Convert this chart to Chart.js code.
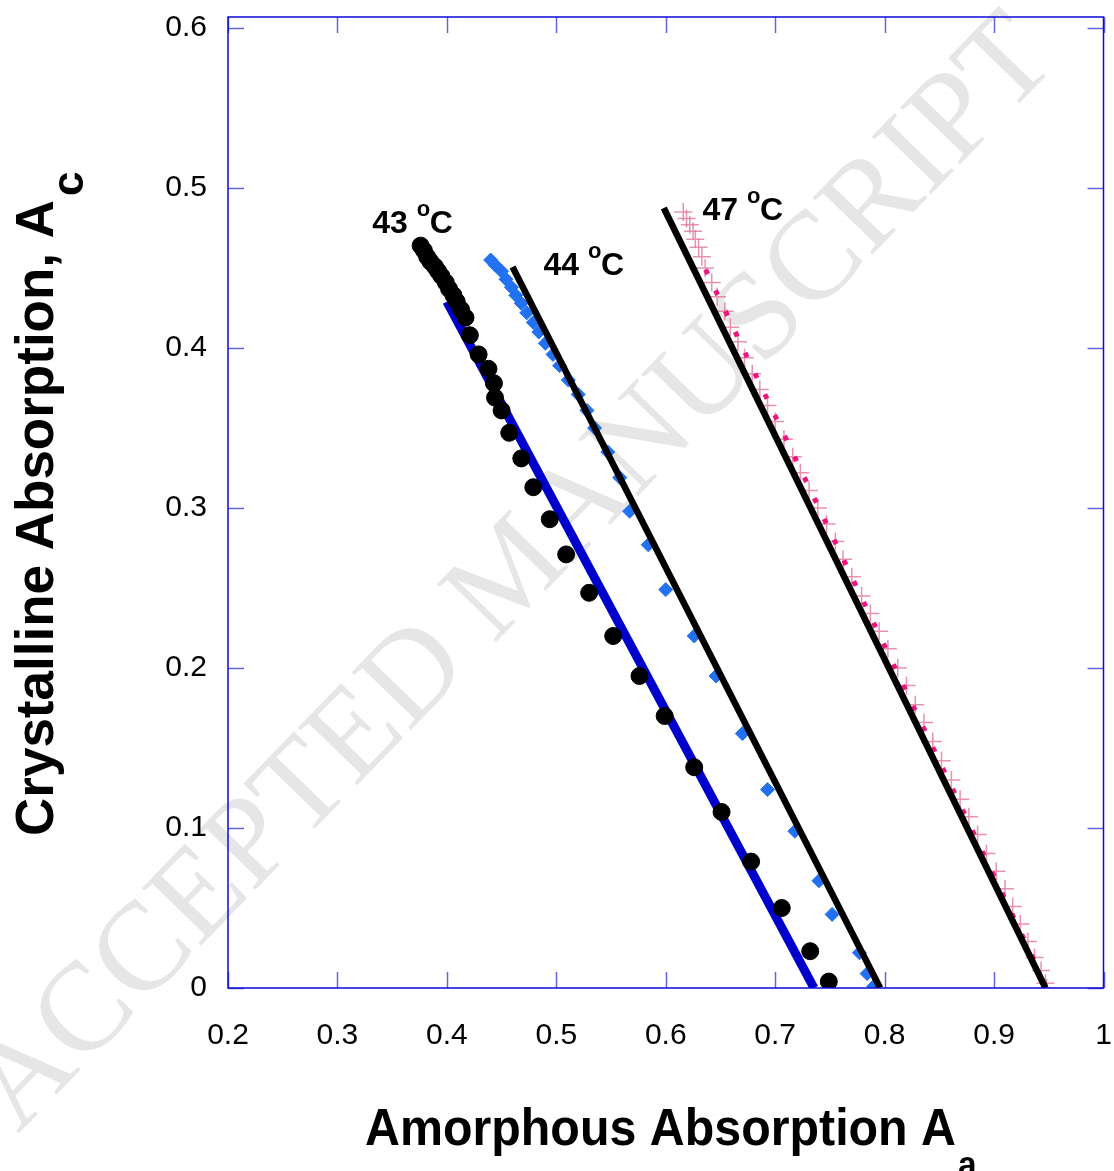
<!DOCTYPE html>
<html>
<head>
<meta charset="utf-8">
<script src="https://cdn.jsdelivr.net/npm/chart.js@4.4.1/dist/chart.umd.min.js"></script>
<style>
  html, body { margin: 0; padding: 0; background: #fff; }
  #wrap { width: 1114px; height: 1171px; }
</style>
</head>
<body>
<div id="wrap"><canvas id="playground" width="1114" height="1171"></canvas></div>
<script>
// tick labels
const xTicks = [0.2, 0.3, 0.4, 0.5, 0.6, 0.7, 0.8, 0.9, 1.0]
const yTicks = [0, 0.1, 0.2, 0.3, 0.4, 0.5, 0.6]

// 43 C data (black dots)
const a43x = [0.376, 0.379, 0.382, 0.385, 0.389, 0.392, 0.395, 0.399, 0.402, 0.406, 0.409, 0.413, 0.417, 0.421, 0.429, 0.438, 0.443, 0.444, 0.450, 0.457, 0.468, 0.479, 0.494, 0.509, 0.530, 0.552, 0.576, 0.599, 0.626, 0.651, 0.678, 0.706, 0.732, 0.749]
const a43y = [0.464, 0.461, 0.457, 0.454, 0.451, 0.448, 0.445, 0.441, 0.437, 0.433, 0.429, 0.424, 0.419, 0.408, 0.396, 0.387, 0.378, 0.369, 0.361, 0.347, 0.331, 0.313, 0.293, 0.271, 0.247, 0.220, 0.195, 0.170, 0.138, 0.110, 0.079, 0.050, 0.023, 0.004]

// 44 C data (blue diamonds)
const a44x = [0.440, 0.444, 0.450, 0.454, 0.459, 0.463, 0.468, 0.473, 0.479, 0.484, 0.490, 0.497, 0.503, 0.511, 0.520, 0.528, 0.535, 0.547, 0.558, 0.567, 0.584, 0.600, 0.626, 0.646, 0.670, 0.693, 0.718, 0.740, 0.752, 0.777, 0.784, 0.790]
const a44y = [0.455, 0.452, 0.448, 0.443, 0.438, 0.433, 0.428, 0.422, 0.416, 0.410, 0.403, 0.396, 0.389, 0.380, 0.371, 0.361, 0.350, 0.335, 0.319, 0.298, 0.277, 0.249, 0.220, 0.195, 0.159, 0.124, 0.098, 0.067, 0.046, 0.022, 0.009, 0.001]

// 47 C data (pink crosses)
const a47x = [0.616, 0.619, 0.622, 0.625, 0.627, 0.630, 0.633, 0.636, 0.642, 0.647, 0.654, 0.659, 0.666, 0.672, 0.679, 0.686, 0.693, 0.700, 0.708, 0.716, 0.723, 0.731, 0.739, 0.747, 0.755, 0.762, 0.770, 0.779, 0.787, 0.795, 0.803, 0.812, 0.820, 0.828, 0.836, 0.844, 0.852, 0.861, 0.869, 0.877, 0.885, 0.893, 0.902, 0.910, 0.917, 0.924, 0.931, 0.937, 0.943, 0.947, 0.948]
const a47y = [0.485, 0.481, 0.477, 0.473, 0.468, 0.463, 0.457, 0.450, 0.441, 0.432, 0.423, 0.413, 0.404, 0.394, 0.384, 0.374, 0.364, 0.354, 0.343, 0.332, 0.322, 0.311, 0.300, 0.290, 0.279, 0.268, 0.257, 0.245, 0.234, 0.223, 0.212, 0.200, 0.189, 0.177, 0.166, 0.154, 0.142, 0.130, 0.118, 0.107, 0.096, 0.084, 0.073, 0.062, 0.051, 0.040, 0.029, 0.019, 0.011, 0.003, 0.000]

// fitted lines
const fit43x = [0.400, 0.7355]
const fit43y = [0.429, 0]
const fit44x = [0.460, 0.7959]
const fit44y = [0.4506, 0]
const fit47x = [0.5982, 0.947]
const fit47y = [0.4875, 0]
const dot47x = [0.6364, 0.943]
const dot47y = [0.449, 0.008]

// labels
const seriesLabels = ['43', '44', '47']
const labelX = [0.3318, 0.4882, 0.6336]
const labelY = [0.4719, 0.4456, 0.48]

const pts = (xs, ys) => xs.map((x, i) => ({ x: x, y: ys[i] }))

const frameColor = '#0a0ad8'
const tickColor = '#6464e0'

const chartDecor = {
  id: 'chartDecor',
  beforeDraw(chart) {
    const c = chart.ctx
    c.save()
    c.fillStyle = '#ffffff'
    c.fillRect(0, 0, chart.width, chart.height)
    // watermark
    c.translate(515, 575)
    c.rotate(-0.80)
    c.font = '126px "Liberation Serif", "DejaVu Serif", serif'
    c.fillStyle = '#e6e6e6'
    c.textAlign = 'center'
    c.textBaseline = 'middle'
    c.fillText('ACCEPTED MANUSCRIPT', 0, 0)
    c.restore()
  },
  afterDraw(chart) {
    const c = chart.ctx
    const a = chart.chartArea
    const xs = chart.scales.x
    const ys = chart.scales.y
    c.save()
    // ticks inside, all four sides
    c.strokeStyle = tickColor
    c.lineWidth = 1.5
    c.beginPath()
    for (const v of xTicks) {
      const px = Math.round(xs.getPixelForValue(v)) + 0.5
      c.moveTo(px, a.bottom); c.lineTo(px, a.bottom - 16)
      c.moveTo(px, a.top); c.lineTo(px, a.top + 16)
    }
    for (const v of yTicks) {
      const py = Math.round(ys.getPixelForValue(v)) + 0.5
      c.moveTo(a.left, py); c.lineTo(a.left + 16, py)
      c.moveTo(a.right, py); c.lineTo(a.right - 16, py)
    }
    c.stroke()
    // frame
    c.strokeStyle = frameColor
    c.lineWidth = 1.5
    c.strokeRect(a.left, a.top, a.right - a.left, a.bottom - a.top)

    // series labels
    c.fillStyle = '#000'
    c.textBaseline = 'alphabetic'
    c.textAlign = 'left'
    seriesLabels.forEach((t, i) => {
      const px = xs.getPixelForValue(labelX[i])
      const py = ys.getPixelForValue(labelY[i])
      c.font = 'bold 32px "Liberation Sans", Arial, sans-serif'
      c.fillText(t, px, py)
      const w = c.measureText(t + ' ').width
      c.font = 'bold 22px "Liberation Sans", Arial, sans-serif'
      c.fillText('o', px + w, py - 17)
      c.font = 'bold 32px "Liberation Sans", Arial, sans-serif'
      c.fillText('C', px + w + 13, py)
    })

    // x axis title
    c.save()
    c.translate(365, 1145)
    c.scale(0.93, 1)
    c.font = 'bold 52px "Liberation Sans", Arial, sans-serif'
    c.fillText('Amorphous Absorption A', 0, 0)
    const tw = c.measureText('Amorphous Absorption A').width
    c.font = 'bold 36px "Liberation Sans", Arial, sans-serif'
    c.fillText('a', tw + 2, 32)
    c.restore()

    // y axis title
    c.save()
    c.translate(53, 836)
    c.rotate(-Math.PI / 2)
    c.font = 'bold 53px "Liberation Sans", Arial, sans-serif'
    c.fillText('Crystalline Absorption, A', 0, 0)
    const yw = c.measureText('Crystalline Absorption, A').width
    c.font = 'bold 44px "Liberation Sans", Arial, sans-serif'
    c.fillText('c', yw + 4, 30)
    c.restore()

    c.restore()
  },
}

const plotChart = () => {
  const ctx = document.getElementById('playground').getContext('2d')
  const myChart = new Chart(ctx, {
    type: 'scatter',
    data: {
      datasets: [
        {
          label: 'fit 44',
          data: pts(fit44x, fit44y),
          showLine: true,
          borderColor: '#000000',
          borderWidth: 6.5,
          pointRadius: 0,
        },
        {
          label: 'fit 47',
          data: pts(fit47x, fit47y),
          showLine: true,
          borderColor: '#000000',
          borderWidth: 6.5,
          pointRadius: 0,
        },
        {
          label: '43 C',
          data: pts(a43x, a43y),
          backgroundColor: '#000000',
          borderColor: '#000000',
          pointRadius: 8.5,
          pointStyle: 'circle',
        },
        {
          label: '47 C dotted',
          data: pts(dot47x, dot47y),
          showLine: true,
          borderColor: '#f0147c',
          borderWidth: 5,
          borderDash: [5, 18],
          pointRadius: 0,
        },
        {
          label: '47 C',
          data: pts(a47x, a47y),
          backgroundColor: 'rgba(222, 110, 150, 0.75)',
          borderColor: 'rgba(222, 110, 150, 0.75)',
          borderWidth: 1.5,
          pointRadius: 9,
          pointStyle: 'cross',
        },
        {
          label: '44 C',
          data: pts(a44x, a44y),
          backgroundColor: '#2272f0',
          borderColor: '#2272f0',
          borderWidth: 1,
          pointRadius: 7,
          pointStyle: 'rectRot',
        },
        {
          label: 'fit 43',
          data: pts(fit43x, fit43y),
          showLine: true,
          borderColor: '#0000cc',
          borderWidth: 9,
          pointRadius: 0,
        },
      ],
    },
    options: {
      responsive: false,
      animation: false,
      layout: { padding: { left: 0, right: 7, top: 17, bottom: 0 } },
      scales: {
        x: {
          type: 'linear',
          min: 0.2,
          max: 1.0,
          afterBuildTicks: (s) => { s.ticks = xTicks.map((v) => ({ value: v })) },
          afterFit: (s) => {
            s.height = 183
            s.paddingLeft = 0
            s.paddingRight = 0
          },
          grid: { display: false },
          border: { display: false },
          ticks: {
            padding: 22,
            color: '#000',
            maxRotation: 0,
            autoSkip: false,
            font: { family: "'Liberation Sans', Arial, sans-serif", size: 30 },
            callback: (v) => (v === 1 ? '1' : v.toFixed(1)),
          },
        },
        y: {
          type: 'linear',
          min: 0,
          max: 0.6069,
          afterBuildTicks: (s) => { s.ticks = yTicks.map((v) => ({ value: v })) },
          afterFit: (s) => {
            s.width = 228
            s.paddingTop = 0
            s.paddingBottom = 0
          },
          grid: { display: false },
          border: { display: false },
          ticks: {
            padding: 13,
            color: '#000',
            autoSkip: false,
            font: { family: "'Liberation Sans', Arial, sans-serif", size: 30 },
            callback: (v) => (v === 0 ? '0' : v.toFixed(1)),
          },
        },
      },
      plugins: {
        legend: { display: false },
        tooltip: { enabled: false },
      },
    },
    plugins: [chartDecor],
  })
  return myChart
}

plotChart()
</script>
</body>
</html>
